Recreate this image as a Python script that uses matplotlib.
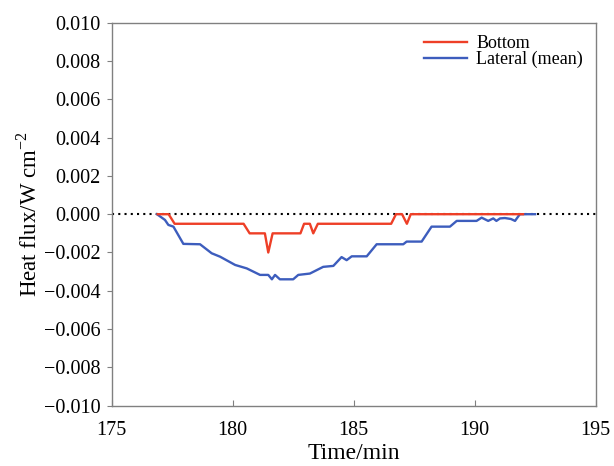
import matplotlib
matplotlib.use("Agg")
import matplotlib.pyplot as plt

plt.rcParams['font.family'] = ['Liberation Serif', 'DejaVu Serif']
plt.rcParams['mathtext.fontset'] = 'custom'
plt.rcParams['mathtext.rm'] = 'Liberation Serif'

bottom_t = [176.9, 177.35, 177.6, 180.45, 180.7, 181.33, 181.47, 181.65, 182.8, 182.95,
            183.19, 183.33, 183.52, 186.55, 186.75, 187.0, 187.2, 187.36, 192.0]
bottom_q = [0, 0, -0.0005, -0.0005, -0.001, -0.001, -0.002, -0.001, -0.001, -0.0005,
            -0.0005, -0.001, -0.0005, -0.0005, 0, 0, -0.0005, 0, 0]

lateral_t = [176.87, 177.2, 177.34, 177.55, 177.96, 178.65, 179.13, 179.48, 180.1, 180.58,
             181.13, 181.47, 181.62, 181.75, 181.95, 182.5, 182.71, 183.19, 183.74, 184.16,
             184.5, 184.71, 184.92, 185.54, 185.95, 187.05, 187.19, 187.81, 188.22, 188.98,
             189.26, 190.08, 190.29, 190.56, 190.77, 190.9, 191.05, 191.25, 191.5, 191.67,
             191.87, 192.5]
lateral_q = [0, -0.0003, -0.00056, -0.00065, -0.00155, -0.00157, -0.00204, -0.00222, -0.00265, -0.00283,
             -0.00317, -0.00317, -0.0034, -0.00317, -0.0034, -0.0034, -0.00317, -0.0031, -0.00275, -0.0027,
             -0.00224, -0.0024, -0.0022, -0.0022, -0.00157, -0.00157, -0.00143, -0.00143, -0.00065, -0.00065,
             -0.00035, -0.00035, -0.00018, -0.00035, -0.00022, -0.00035, -0.00022, -0.0002, -0.00025, -0.00035,
             0, 0]

xticks = [175, 180, 185, 190, 195]
yticks = [-0.010, -0.008, -0.006, -0.004, -0.002, 0.000, 0.002, 0.004, 0.006, 0.008, 0.010]

fig = plt.figure(figsize=(6.14, 4.66), dpi=100)
ax = fig.add_axes([0.182, 0.1294, 0.788, 0.8219])

ax.axhline(0, color='black', linestyle=(0, (1, 2)), linewidth=1.5, zorder=1)
ax.plot(bottom_t, bottom_q, color='#ee3f27', linewidth=1.7, label='Bottom', zorder=3)
ax.plot(lateral_t, lateral_q, color='#3d5dbd', linewidth=1.7, label='Lateral (mean)', zorder=2)

ax.set_xlim(175, 195)
ax.set_ylim(-0.010, 0.010)
ax.set_xticks(xticks)
ax.set_yticks(yticks)
ax.set_yticklabels(['\u2212%.3f' % abs(v) if v < 0 else '%.3f' % v for v in yticks])

for s in ax.spines.values():
    s.set_color('#808080')
    s.set_linewidth(1.0)

ax.tick_params(axis='x', direction='in', length=4.3, color='#808080', labelsize=14.5, pad=11)
ax.tick_params(axis='y', direction='out', length=3.6, color='#808080', labelsize=14.5, pad=4.3)

ax.set_xlabel('Time/min', fontsize=17, labelpad=2)
ax.set_ylabel('Heat flux/W cm$^{-2}$', fontsize=16.5, labelpad=2)

leg = ax.legend(loc='upper right', bbox_to_anchor=(1.0, 1.0), frameon=False,
                fontsize=13, handlelength=2.4, handletextpad=0.5, labelspacing=-0.08,
                borderaxespad=0.3)

fig.savefig('out.png', dpi=100)
